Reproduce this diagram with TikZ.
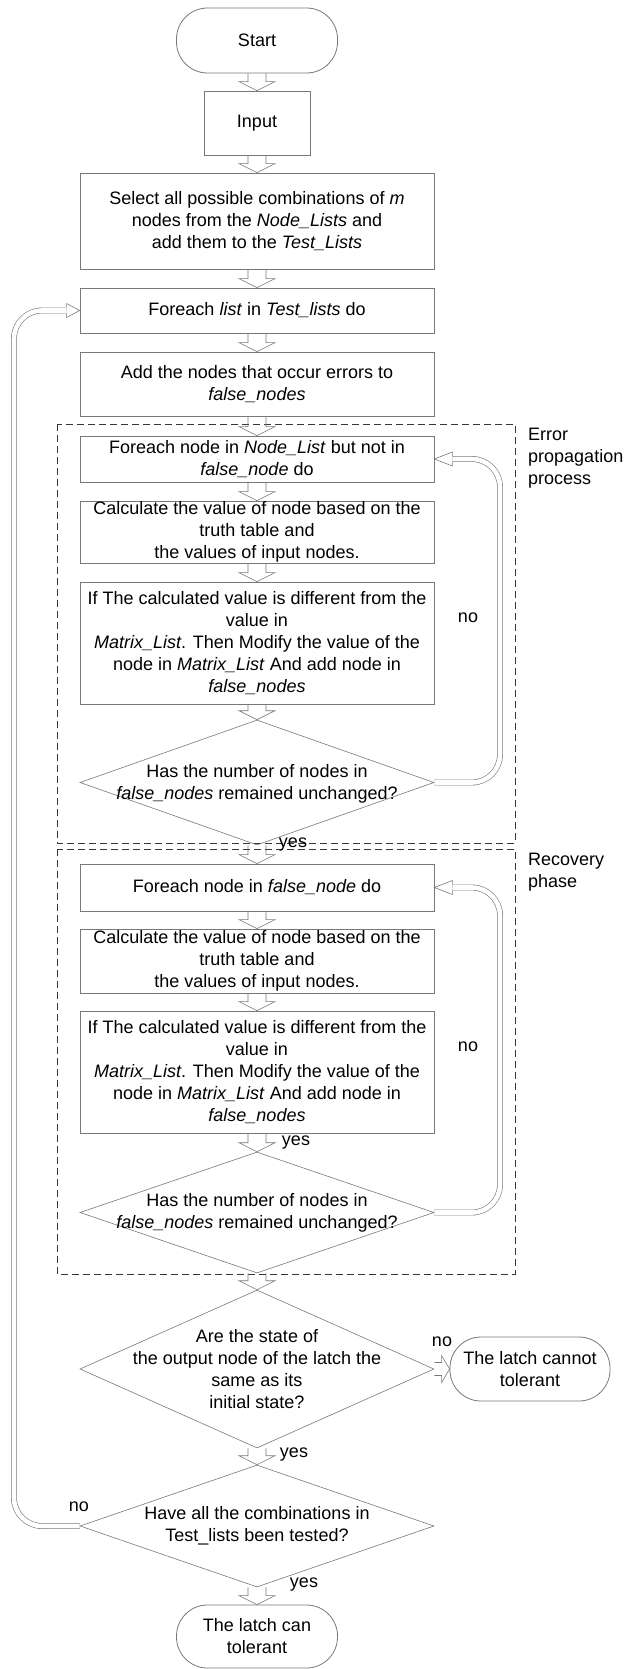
\documentclass[tikz,border=0pt]{standalone}
\usepackage{fontspec}
\setmainfont{Liberation Sans}
\usetikzlibrary{shapes.geometric,calc}
\definecolor{lc}{RGB}{120,120,120}
\definecolor{dc}{RGB}{55,55,55}
\tikzset{
  mybox/.style={draw=lc, line width=0.8pt, rectangle, inner sep=0pt, align=center, minimum width=354pt},
  term/.style={draw=lc, line width=0.8pt, rectangle, rounded corners=31pt, inner sep=0pt, align=center},
  dia/.style={draw=lc, line width=0.6pt, diamond, inner sep=0pt, minimum width=354pt},
  dtext/.style={inner sep=0pt, align=center},
  lbl/.style={inner sep=0pt},
  blk/.style={draw=lc, line width=0.6pt},
  loopl/.style={draw=lc, line width=0.6pt, double=white, double distance=4.6pt, rounded corners=28pt},
  dashbox/.style={draw=dc, line width=0.8pt, dash pattern=on 7pt off 4pt}
}
\newcommand\vblk[2]{\draw[blk] let \p1=(#1), \p2=(#2) in (\x1-9pt,\y1) -- (\x1-9pt,\y2+9pt) -- (\x1-18pt,\y2+9pt) -- (\x1,\y2) -- (\x1+18pt,\y2+9pt) -- (\x1+9pt,\y2+9pt) -- (\x1+9pt,\y1);}
\newcommand\hblk[2]{\draw[blk] let \p1=(#1), \p2=(#2) in (\x1,\y1+6.5pt) -- (\x2-8pt,\y1+6.5pt) -- (\x2-8pt,\y1+13.5pt) -- (\x2,\y1) -- (\x2-8pt,\y1-13.5pt) -- (\x2-8pt,\y1-6.5pt) -- (\x1,\y1-6.5pt);}
\newcommand\headL[1]{\draw[blk] let \p1=(#1) in (\x1+18pt,\y1+3pt) -- (\x1+18pt,\y1+7pt) -- (\x1,\y1) -- (\x1+18pt,\y1-7pt) -- (\x1+18pt,\y1-3pt);}
\newcommand\headR[1]{\draw[blk] let \p1=(#1) in (\x1-13pt,\y1+3pt) -- (\x1-13pt,\y1+7pt) -- (\x1,\y1) -- (\x1-13pt,\y1-7pt) -- (\x1-13pt,\y1-3pt);}
\begin{document}
\begin{tikzpicture}[x=1pt, y=-1pt, font=\fontsize{18}{22}\selectfont]
\useasboundingbox (0,0) rectangle (627,1669);

% dashed regions
\draw[dashbox] (57,424) rectangle (515,843);
\draw[dashbox] (57,849) rectangle (515,1274);

% nodes
\node[term, minimum width=161pt, minimum height=65pt] (start) at (257,40.5) {Start};
\node[mybox, minimum width=106pt, minimum height=64pt] (input) at (257,123) {Input};
\node[mybox, minimum height=96pt] (select) at (257,221) {Select all possible combinations of \textit{m}\\nodes from the \textit{Node\_Lists} and\\add them to the \textit{Test\_Lists}};
\node[mybox, minimum height=45pt] (fl) at (257,310.5) {Foreach \textit{list} in \textit{Test\_lists} do};
\node[mybox, minimum height=64pt] (addn) at (257,384) {Add the nodes that occur errors to\\\textit{false\_nodes}};
\node[mybox, minimum height=46pt] (fe1) at (257,459) {Foreach node in \textit{Node\_List} but not in\\\textit{false\_node} do};
\node[mybox, minimum height=62pt] (calc1) at (257,532) {Calculate the value of node based on the\\truth table and\\the values of input nodes.};
\node[mybox, minimum height=122pt] (if1) at (257,643) {If The calculated value is different from the\\value in\\\textit{Matrix\_List}. Then Modify the value of the\\node in \textit{Matrix\_List} And add node in\\\textit{false\_nodes}};
\node[dia, minimum height=125pt] (d1) at (257,782.5) {};
\node[dtext] (d1t) at (257,784) {Has the number of nodes in\\\textit{false\_nodes} remained unchanged?};

\node[mybox, minimum height=47pt] (fe2) at (257,887.5) {Foreach node in \textit{false\_node} do};
\node[mybox, minimum height=64pt] (calc2) at (257,961) {Calculate the value of node based on the\\truth table and\\the values of input nodes.};
\node[mybox, minimum height=122pt] (if2) at (257,1072) {If The calculated value is different from the\\value in\\\textit{Matrix\_List}. Then Modify the value of the\\node in \textit{Matrix\_List} And add node in\\\textit{false\_nodes}};
\node[dia, minimum height=121pt] (d2) at (257,1212.5) {};
\node[dtext] (d2t) at (257,1213) {Has the number of nodes in\\\textit{false\_nodes} remained unchanged?};

\node[dia, minimum height=158pt] (d3) at (257,1369) {};
\node[dtext] (d3t) at (257,1369) {Are the state of\\the output node of the latch the\\same as its\\initial state?};
\node[term, minimum width=160pt, minimum height=64pt] (cannot) at (530,1369) {The latch cannot\\tolerant};

\node[dia, minimum height=122pt] (d4) at (257,1526) {};
\node[dtext] (d4t) at (257,1526) {Have all the combinations in\\Test\_lists been tested?};
\node[term, minimum width=161pt, minimum height=63pt] (final) at (257,1636.5) {The latch can\\tolerant};

% side labels
\node[lbl, anchor=west, align=left] (lerr) at (528,458) {Error\\propagation\\process};
\node[lbl, anchor=west, align=left] (lrec) at (528,872.5) {Recovery\\phase};

% branch labels
\node[lbl] (no1) at (468,618) {no};
\node[lbl] (no2) at (468,1047) {no};
\node[lbl] (no3) at (442,1342) {no};
\node[lbl] (no4) at (79,1507) {no};
\node[lbl] (yes1) at (293,845) {yes};
\node[lbl] (yes2) at (296,1143) {yes};
\node[lbl] (yes3) at (294,1455) {yes};
\node[lbl] (yes4) at (304,1585) {yes};

% block arrows
\vblk{start.south}{input.north}
\vblk{input.south}{select.north}
\vblk{select.south}{fl.north}
\vblk{fl.south}{addn.north}
\vblk{addn.south}{fe1.north}
\vblk{fe1.south}{calc1.north}
\vblk{calc1.south}{if1.north}
\vblk{if1.south}{d1.north}
\vblk{d1.south}{fe2.north}
\vblk{fe2.south}{calc2.north}
\vblk{calc2.south}{if2.north}
\vblk{if2.south}{d2.north}
\vblk{d2.south}{d3.north}
\vblk{d3.south}{d4.north}
\vblk{d4.south}{final.north}
\hblk{d3.east}{cannot.west}

% loop-back connectors
\coordinate (rx) at (500,0);
\coordinate (lx) at (14,0);
\draw[loopl] (d1.east) -- (rx |- d1.east) |- ($(fe1.east)+(18pt,0)$);
\headL{fe1.east}
\draw[loopl] (d2.east) -- (rx |- d2.east) |- ($(fe2.east)+(18pt,0)$);
\headL{fe2.east}
\draw[loopl] (d4.west) -- (lx |- d4.west) |- ($(fl.west)+(-13pt,0)$);
\headR{fl.west}
\end{tikzpicture}
\end{document}
